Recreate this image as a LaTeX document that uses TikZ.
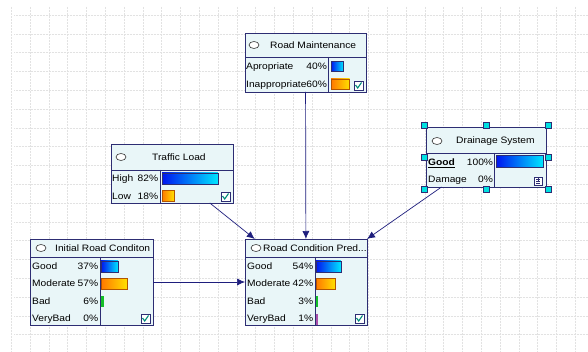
\documentclass[tikz,border=0pt]{standalone}
\usepackage{fontspec}
\setmainfont[FakeStretch=1.1]{Liberation Sans}
\usepackage{xcolor}
\usepackage{tikz}
\usetikzlibrary{shapes,arrows.meta,positioning,calc}

\definecolor{netline}{RGB}{45,45,115}
\definecolor{netfill}{RGB}{233,246,248}
\definecolor{linkcol}{RGB}{30,30,125}
\definecolor{gridcol}{RGB}{226,226,226}
\definecolor{blueA}{RGB}{0,20,240}
\definecolor{blueB}{RGB}{0,230,255}
\definecolor{orangeA}{RGB}{255,120,0}
\definecolor{orangeB}{RGB}{255,225,0}
\definecolor{bargreen}{RGB}{20,190,40}
\definecolor{barviolet}{RGB}{170,80,170}
\definecolor{handlecol}{RGB}{0,225,225}
\definecolor{tickcol}{RGB}{0,140,120}

\tikzset{
  netbox/.style={rectangle, draw=netline, fill=netfill, line width=0.9pt,
                 inner sep=0pt, outer sep=0pt, anchor=north west},
  nettitle/.style={anchor=west, inner sep=0pt, font=\fontsize{9.3}{11}\selectfont},
  statecol/.style={anchor=north west, inner sep=0pt, font=\fontsize{9.3}{17.5}\selectfont},
  netrule/.style={draw=netline, line width=0.8pt},
  netoval/.style={draw=black!80, fill=white, line width=0.6pt},
  bluebar/.style={draw=netline, line width=0.5pt, left color=blueA, right color=blueB},
  orangebar/.style={draw=orangeA!70!black, line width=0.5pt, left color=orangeA, right color=orangeB},
  tickbox/.style={draw=netline, fill=white, line width=0.5pt},
  tick/.style={draw=tickcol, line width=1.1pt},
  handle/.style={draw=netline, fill=handlecol, line width=0.4pt},
  gridline/.style={draw=gridcol, densely dotted, line width=0.5pt},
  link/.style={draw=linkcol, line width=0.7pt, -{Latex[length=8pt,width=7pt]}}
}

\begin{document}
\begin{tikzpicture}[x=1pt, y=-1pt]

\fill[white] (0,0) rectangle (588,352);
\useasboundingbox (0,0) rectangle (588,352);

% background grid
\foreach \gx in {0,...,30}
  \draw[gridline] ({11.2+18.8*\gx},7) -- ({11.2+18.8*\gx},352);
\foreach \gy in {0,...,17}
  \draw[gridline] (14,{15+18.8*\gy}) -- (588,{15+18.8*\gy});

% Road Maintenance
\node[netbox, minimum width=121pt, minimum height=59pt] (maint) at (245,33) {};
\draw[netoval] (254,45) ellipse (5pt and 3.5pt);
\node[nettitle] (maint-title) at (270,45) {Road Maintenance};
\draw[netrule] (245,57) -- (366,57);
\draw[netrule] (328,57) -- (328,92);
\node[statecol] (maint-states) at (246,57.5) {\begin{tabular*}{80pt}{@{}l@{\extracolsep{\fill}}r@{}}
                                               Apropriate & 40\% \\
                                               Inappropriate & 60\% \\
                                               \end{tabular*}};
\draw[bluebar] (331,61.5) rectangle ++(12.4,10);
\draw[orangebar] (331,79) rectangle ++(18.6,10);
\draw[tickbox] (354,81) rectangle ++(9,9);
\draw[tick] (355.5,85) -- (357.7,88) -- (361.5,82.5);

% Traffic Load
\node[netbox, minimum width=122pt, minimum height=59pt] (traffic) at (111,144) {};
\draw[netoval] (121,157) ellipse (5pt and 3.5pt);
\node[nettitle] (traffic-title) at (152,157) {Traffic Load};
\draw[netrule] (111,170) -- (233,170);
\draw[netrule] (160,170) -- (160,203);
\node[statecol] (traffic-states) at (112,169.5) {\begin{tabular*}{46pt}{@{}l@{\extracolsep{\fill}}r@{}}
                                                 High & 82\% \\
                                                 Low & 18\% \\
                                                 \end{tabular*}};
\draw[bluebar] (162,173) rectangle ++(55.8,11);
\draw[orangebar] (162,190.5) rectangle ++(12.2,11);
\draw[tickbox] (221,192) rectangle ++(9,9);
\draw[tick] (222.5,196) -- (224.7,199) -- (228.5,193.5);

% Drainage System
\node[netbox, minimum width=120pt, minimum height=60pt] (drain) at (426,127) {};
\draw[netoval] (437,141) ellipse (5pt and 3.5pt);
\node[nettitle] (drain-title) at (456,141) {Drainage System};
\draw[netrule] (426,153) -- (546,153);
\draw[netrule] (494,153) -- (494,187);
\node[statecol] (drain-states) at (428,153) {\begin{tabular*}{64pt}{@{}l@{\extracolsep{\fill}}r@{}}
                                             \underline{\textbf{Good}} & 100\% \\
                                             Damage & 0\% \\
                                             \end{tabular*}};
\draw[bluebar] (496,155.5) rectangle ++(47,12);
\draw[tickbox] (534,177) rectangle ++(8,8);
\draw[netline, line width=0.5pt] (536,179) -- (540,179) (536,181) -- (540,181) (536,183) -- (540,183) (538,178.5) -- (538,181);
\foreach \hx/\hy in {424/125, 486/125, 548/125, 424/157, 548/157, 424/189, 486/189, 548/189}
  \draw[handle] (\hx-3,\hy-3) rectangle ++(6,6);

% Initial Road Conditon
\node[netbox, minimum width=123pt, minimum height=86pt] (init) at (30,239) {};
\draw[netoval] (41,248) ellipse (5pt and 3.5pt);
\node[nettitle] (init-title) at (55,248) {Initial Road Conditon};
\draw[netrule] (30,257) -- (153,257);
\draw[netrule] (100,257) -- (100,325);
\node[statecol] (init-states) at (32,257) {\begin{tabular*}{66pt}{@{}l@{\extracolsep{\fill}}r@{}}
                                           Good & 37\% \\
                                           Moderate & 57\% \\
                                           Bad & 6\% \\
                                           VeryBad & 0\% \\
                                           \end{tabular*}};
\draw[bluebar] (101,261) rectangle ++(17,11);
\draw[orangebar] (101,278.5) rectangle ++(26.2,11);
\fill[bargreen] (101,296) rectangle ++(2.6,11);
\draw[tickbox] (141,314) rectangle ++(9,9);
\draw[tick] (142.5,318) -- (144.7,321) -- (148.5,315.5);

% Road Condition Prediction
\node[netbox, minimum width=122pt, minimum height=86pt] (cond) at (245,239) {};
\draw[netoval] (256,248) ellipse (5pt and 3.5pt);
\node[nettitle] (cond-title) at (263,248) {Road Condition Pred...};
\draw[netrule] (245,257) -- (367,257);
\draw[netrule] (315,257) -- (315,325);
\node[statecol] (cond-states) at (247,257) {\begin{tabular*}{66pt}{@{}l@{\extracolsep{\fill}}r@{}}
                                            Good & 54\% \\
                                            Moderate & 42\% \\
                                            Bad & 3\% \\
                                            VeryBad & 1\% \\
                                            \end{tabular*}};
\draw[bluebar] (316,261) rectangle ++(24.8,11);
\draw[orangebar] (316,278.5) rectangle ++(19.3,11);
\fill[bargreen] (316,296) rectangle ++(1.8,11);
\fill[barviolet] (316,313.5) rectangle ++(1.5,11);
\draw[tickbox] (355,314) rectangle ++(9,9);
\draw[tick] (356.5,318) -- (358.7,321) -- (362.5,315.5);

% links
\draw[link] (maint) -- (cond);
\draw[link] (traffic.-38) -- (cond.140);
\draw[link] (drain.-146) -- (cond.north east);
\draw[link] (init) -- (cond);

\end{tikzpicture}
\end{document}
